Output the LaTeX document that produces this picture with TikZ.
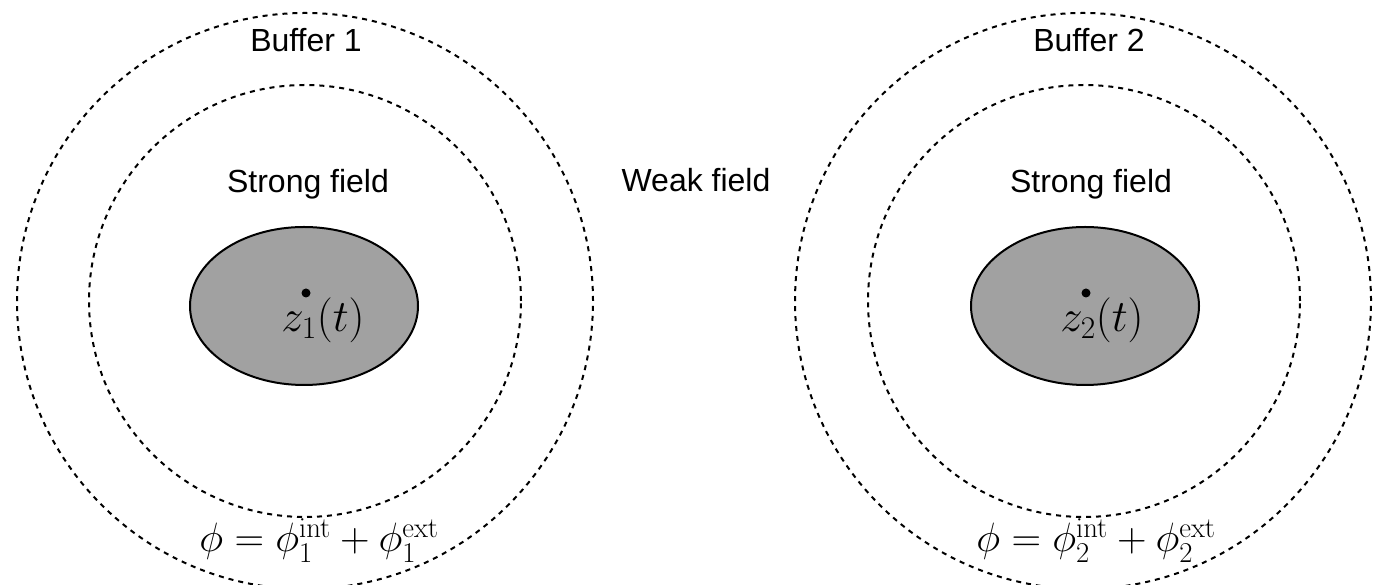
\RequirePackage{fix-cm}
\documentclass[tikz,border=0pt]{standalone}
\usepackage[no-math]{fontspec}
\setmainfont{Liberation Sans}
\usetikzlibrary{shapes.geometric}
\definecolor{blobgray}{RGB}{161,161,161}
\tikzset{
  zone/.style={circle, draw=black, line width=2pt, dash pattern=on 5pt off 5pt, inner sep=0pt, minimum size=#1},
  blob/.style={ellipse, draw=black, line width=2pt, fill=blobgray, inner sep=0pt, minimum width=228pt, minimum height=158pt},
  centre/.style={circle, fill=black, inner sep=0pt, minimum size=9pt},
  lbl/.style={anchor=base, inner sep=0pt, font=\fontsize{32}{38}\selectfont},
  zlbl/.style={anchor=base, inner sep=0pt, font=\fontsize{45}{52}\selectfont},
  mlbl/.style={anchor=base, inner sep=0pt, font=\fontsize{41}{48}\selectfont}
}
\begin{document}
\begin{tikzpicture}[x=1pt,y=1pt]
\useasboundingbox (0,0) rectangle (1378,585);
% body 1
\node[zone=576pt] (outer1) at (305,284) {};
\node[zone=432pt] (inner1) at (305,284) {};
\node[blob] (body1) at (304,279) {};
\node[centre] (dot1) at (306,292) {};
\node[zlbl] (z1) at (323,253) {$z_1(t)$};
\node[lbl] (buf1) at (306,533) {Buffer 1};
\node[lbl] (sf1) at (308,392) {Strong field};
\node[mlbl] (phi1) at (319,33) {$\phi=\phi_1^{\mathrm{int}}+\phi_1^{\mathrm{ext}}$};
% body 2
\node[zone=576pt] (outer2) at (1083,284) {};
\node[zone=432pt] (inner2) at (1084,284) {};
\node[blob] (body2) at (1085,279) {};
\node[centre] (dot2) at (1086,292) {};
\node[zlbl] (z2) at (1102,253) {$z_2(t)$};
\node[lbl] (buf2) at (1089,533) {Buffer 2};
\node[lbl] (sf2) at (1091,392) {Strong field};
\node[mlbl] (phi2) at (1096,33) {$\phi=\phi_2^{\mathrm{int}}+\phi_2^{\mathrm{ext}}$};
% between
\node[lbl] (weak) at (696,393) {Weak field};
\end{tikzpicture}
\end{document}
